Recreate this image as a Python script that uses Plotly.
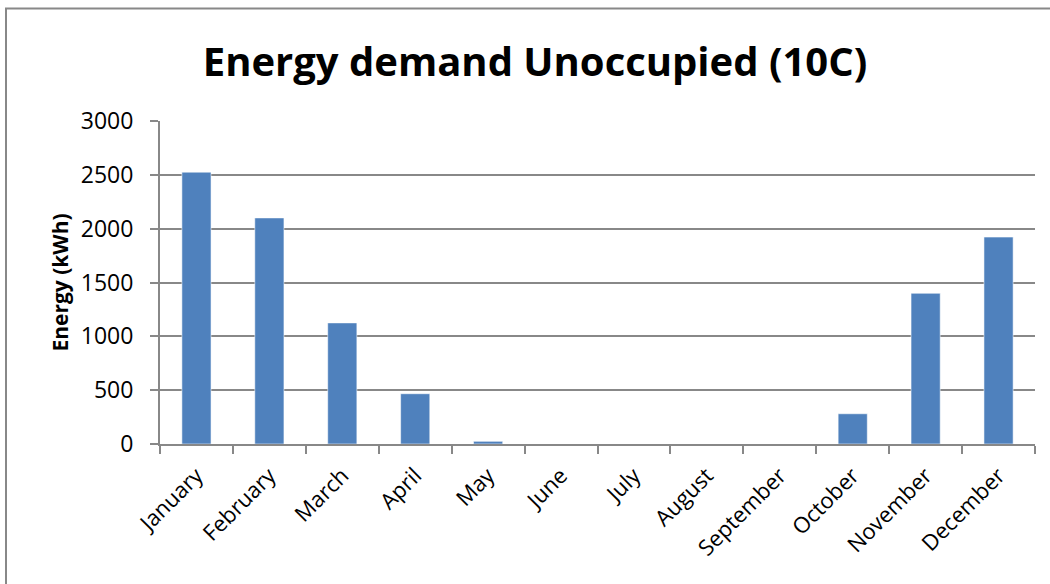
import plotly.graph_objects as go

months = ["January", "February", "March", "April", "May", "June", "July",
          "August", "September", "October", "November", "December"]
energy_kwh = [2525, 2100, 1125, 467, 25, 0, 0, 0, 0, 281, 1400, 1922]

y_ticks = [0, 500, 1000, 1500, 2000, 2500, 3000]

grid_col = "#888888"
font_fam = "Open Sans, Liberation Sans, sans-serif"

fig = go.Figure(
    go.Bar(
        x=months,
        y=energy_kwh,
        marker=dict(color="#4F81BD", line=dict(color="rgba(255,255,255,0.55)", width=1)),
    )
)

W, H = 1050, 584
ml, mr, mt, mb = 160, 15, 121, 140
pw, ph = W - ml - mr, H - mt - mb

def px_to_paper_x(px):
    return (px - ml) / pw

def px_to_paper_y(py):
    return (H - mb - py) / ph

fig.update_layout(
    width=W,
    height=H,
    margin=dict(l=ml, r=mr, t=mt, b=mb),
    paper_bgcolor="white",
    plot_bgcolor="white",
    bargap=0.6,
    showlegend=False,
    font=dict(family=font_fam, color="black"),
    title=dict(
        text="<b>Energy demand Unoccupied (10C)</b>",
        x=535 / W,
        xanchor="center",
        y=1 - 62 / H,
        yanchor="middle",
        font=dict(family=font_fam, size=40, color="black"),
    ),
    xaxis=dict(
        type="category",
        tickangle=-45,
        tickfont=dict(size=22),
        ticklabelstandoff=8,
        showline=True,
        linecolor=grid_col,
        linewidth=2,
        ticks="outside",
        tickson="boundaries",
        ticklen=8,
        tickcolor=grid_col,
        tickwidth=2,
        showgrid=False,
    ),
    yaxis=dict(
        range=[0, 3000],
        tickvals=y_ticks,
        tickfont=dict(size=23),
        ticklabelstandoff=12,
        showline=True,
        linecolor=grid_col,
        linewidth=2,
        ticks="outside",
        ticklen=8,
        tickcolor=grid_col,
        tickwidth=2,
        showgrid=True,
        gridcolor=grid_col,
        gridwidth=2,
        zeroline=False,
        title=dict(text="<b>Energy (kWh)</b>", font=dict(size=21), standoff=6),
    ),
    shapes=[
        dict(
            type="rect",
            xref="paper",
            yref="paper",
            x0=px_to_paper_x(6),
            x1=px_to_paper_x(1070),
            y0=px_to_paper_y(600),
            y1=px_to_paper_y(8.5),
            line=dict(color=grid_col, width=2),
            fillcolor="rgba(0,0,0,0)",
            layer="below",
        )
    ],
)

fig.write_html("out.html")
